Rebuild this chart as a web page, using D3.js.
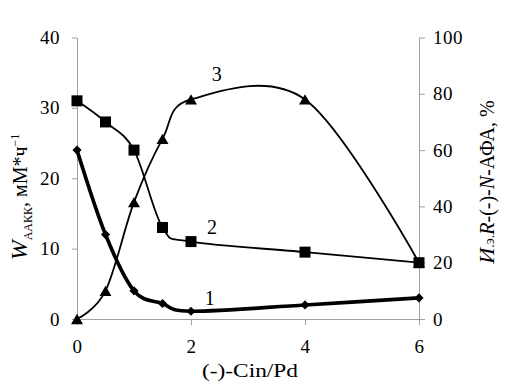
<!DOCTYPE html>
<html>
<head>
<meta charset="utf-8">
<script src="https://cdn.jsdelivr.net/npm/d3@7"></script>
<style>
  body { margin: 0; background: #fff; }
  #chart text { font-family: "Liberation Serif", "DejaVu Serif", serif !important; fill: #000; }
</style>
</head>
<body>
<svg id="chart" width="505" height="386"></svg>
<script>
// data
const cinPd = [0, 0.5, 1, 1.5, 2, 4, 6];
const rate1 = [24, 12, 4, 2.2, 1.1, 2, 3];        // curve 1, left axis (diamonds)
const rate2 = [31, 28, 24, 13, 11, 9.5, 8];       // curve 2, left axis (squares)
const eeAFA = [0, 10, 41.5, 64, 78, 78, 20];      // curve 3, right axis (triangles)
const xTicks = [0, 2, 4, 6];
const leftTicks = [0, 10, 20, 30, 40];
const rightTicks = [0, 20, 40, 60, 80, 100];

const svg = d3.select("#chart");
const axisColor = "#a0a0a0";

const x = d3.scaleLinear().domain([0, 6]).range([77, 419]);
const yL = d3.scaleLinear().domain([0, 40]).range([319, 37.5]);
const yR = d3.scaleLinear().domain([0, 100]).range([319, 37.5]);

// axes
function styleAxis(g) {
  g.attr("font-family", null).attr("font-size", null);
  g.select(".domain").attr("stroke", axisColor);
  g.selectAll(".tick line").attr("stroke", axisColor);
  g.selectAll(".tick text").style("font-size", "19px").style("letter-spacing", "0.5px");
}

svg.append("g")
  .attr("transform", "translate(0,319)")
  .call(d3.axisBottom(x).tickValues(xTicks).tickSize(6).tickSizeOuter(0).tickPadding(15).tickFormat(d3.format("d")))
  .call(styleAxis);

svg.append("g")
  .attr("transform", "translate(77,0)")
  .call(d3.axisLeft(yL).tickValues(leftTicks).tickSize(5).tickSizeOuter(0).tickPadding(12))
  .call(styleAxis);

svg.append("g")
  .attr("transform", "translate(419,0)")
  .call(d3.axisRight(yR).tickValues(rightTicks).tickSize(6).tickSizeOuter(0).tickPadding(8))
  .call(styleAxis);

// lines
const pts = vals => cinPd.map((d, i) => [d, vals[i]]);
const lineL = d3.line().x(d => x(d[0])).y(d => yL(d[1])).curve(d3.curveCardinal.tension(0));
const lineR = d3.line().x(d => x(d[0])).y(d => yR(d[1])).curve(d3.curveCardinal.tension(0));

svg.append("path").attr("d", lineR(pts(eeAFA)))
  .attr("fill", "none").attr("stroke", "#000").attr("stroke-width", 1.8);
svg.append("path").attr("d", lineL(pts(rate2)))
  .attr("fill", "none").attr("stroke", "#000").attr("stroke-width", 1.8);
svg.append("path").attr("d", lineL(pts(rate1)))
  .attr("fill", "none").attr("stroke", "#000").attr("stroke-width", 3.6);

// markers
svg.selectAll("path.tri")
  .data(pts(eeAFA))
  .enter().append("path")
  .attr("class", "tri")
  .attr("d", d3.symbol().type(d3.symbolTriangle).size(62))
  .attr("transform", d => `translate(${x(d[0])},${yR(d[1]) + 1.7})`)
  .attr("fill", "#000");

svg.selectAll("path.sq")
  .data(pts(rate2))
  .enter().append("path")
  .attr("class", "sq")
  .attr("d", d3.symbol().type(d3.symbolSquare).size(121))
  .attr("transform", d => `translate(${x(d[0])},${yL(d[1])})`)
  .attr("fill", "#000");

svg.selectAll("path.dia")
  .data(pts(rate1))
  .enter().append("path")
  .attr("class", "dia")
  .attr("d", d3.symbol().type(d3.symbolSquare).size(42))
  .attr("transform", d => `translate(${x(d[0])},${yL(d[1])}) rotate(45)`)
  .attr("fill", "#000");

// curve numbers
const numStyle = t => t.attr("text-anchor", "middle").style("font-size", "20px");
svg.append("text").attr("x", x(2.45)).attr("y", yR(84.5)).text("3").call(numStyle);
svg.append("text").attr("x", x(2.37)).attr("y", yL(12.1)).text("2").call(numStyle);
svg.append("text").attr("x", x(2.33)).attr("y", yL(2)).text("1").call(numStyle);

// x title
svg.append("text")
  .attr("x", 250).attr("y", 377)
  .attr("text-anchor", "middle")
  .attr("textLength", 96).attr("lengthAdjust", "spacingAndGlyphs")
  .style("font-size", "19px")
  .text("(-)-Cin/Pd");

// left title
const lt = svg.append("text")
  .attr("transform", "translate(27,197) rotate(-90)")
  .attr("text-anchor", "middle")
  .style("font-size", "20px");
lt.append("tspan").attr("font-style", "italic").style("font-size", "24px").text("W");
lt.append("tspan").attr("dy", 5).style("font-size", "12px").text("ААКК");
lt.append("tspan").attr("dy", -5).text(", мМ*ч");
lt.append("tspan").attr("dy", -8).style("font-size", "12px").text("−1");

// right title
const rt = svg.append("text")
  .attr("transform", "translate(494,182) rotate(-90)")
  .attr("text-anchor", "middle")
  .style("font-size", "20px");
rt.append("tspan").attr("font-style", "italic").style("font-size", "22px").text("И");
rt.append("tspan").style("font-size", "14px").text(".э.");
rt.append("tspan").attr("font-style", "italic").text("R");
rt.append("tspan").text("-(-)-");
rt.append("tspan").attr("font-style", "italic").text("N");
rt.append("tspan").text("-АФА, %");
</script>
</body>
</html>
